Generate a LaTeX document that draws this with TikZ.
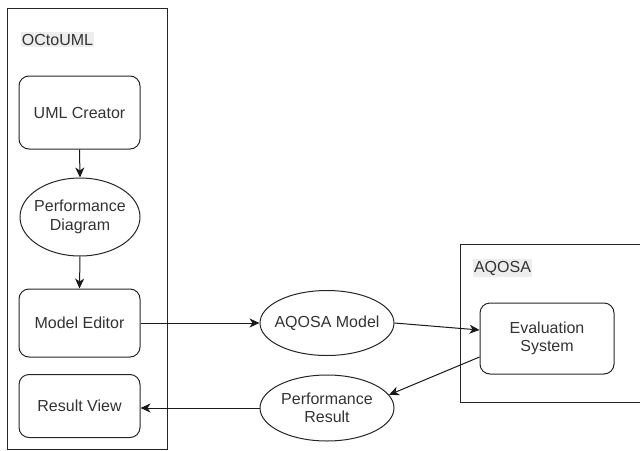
\documentclass[tikz,border=0pt]{standalone}
\usepackage{fontspec}
\setmainfont{Liberation Sans}
\usetikzlibrary{shapes.geometric,arrows.meta,calc}
\begin{document}
\begin{tikzpicture}[x=1pt,y=-1pt,
  lane/.style={draw=black!85,line width=0.9pt},
  boxnode/.style={draw=black!85,line width=1pt,rounded corners=10pt,align=center,
    font=\fontsize{16}{18.5}\selectfont,text=black!80,inner sep=0pt},
  ellnode/.style={draw=black!85,line width=1pt,ellipse,align=center,
    font=\fontsize{16}{18.5}\selectfont,text=black!80,inner xsep=-12pt,inner ysep=0pt},
  lanelabel/.style={fill=black!7,font=\fontsize{16}{18.5}\selectfont,text=black!80,
    inner xsep=1pt,inner ysep=2pt},
  conn/.style={draw=black!90,line width=1pt,-{Stealth[length=10pt,width=9pt,inset=3pt]}}
]
\useasboundingbox (0,0) rectangle (640,450);
% lanes
\draw[lane] (7,8) rectangle (167,449);
\draw[lane] (460,244) rectangle (645,402);
\node[lanelabel] (t1) at (57.5,39.5) {OCtoUML};
\node[lanelabel] (t2) at (502.5,268) {AQOSA};
% nodes
\node[boxnode,minimum width=121pt,minimum height=73pt] (uml) at (79.5,112.5) {UML Creator};
\node[ellnode,minimum width=120pt,minimum height=78pt] (pd) at (80,217) {Performance\\Diagram};
\node[boxnode,minimum width=121pt,minimum height=68pt] (me) at (79.5,323) {Model Editor};
\node[boxnode,minimum width=121pt,minimum height=63pt] (rv) at (79.5,406) {Result View};
\node[ellnode,minimum width=134pt,minimum height=65pt] (am) at (327,323) {AQOSA Model};
\node[ellnode,minimum width=134pt,minimum height=66pt] (pr) at (327,408) {Performance\\Result};
\node[boxnode,minimum width=134pt,minimum height=71pt] (es) at (547,338.5) {Evaluation\\System};
% connectors
\draw[conn] (uml.south) -- (pd.north);
\draw[conn] (pd.south) -- (me.north);
\draw[conn] (me.east) -- (am.west);
\draw[conn] (am.east) -- ($(es.west)+(0,-8.5)$);
\draw[conn] ($(es.west)+(0,18.5)$) -- (pr.12);
\draw[conn] (pr.west) -- (rv.east |- pr.west);
\end{tikzpicture}
\end{document}
